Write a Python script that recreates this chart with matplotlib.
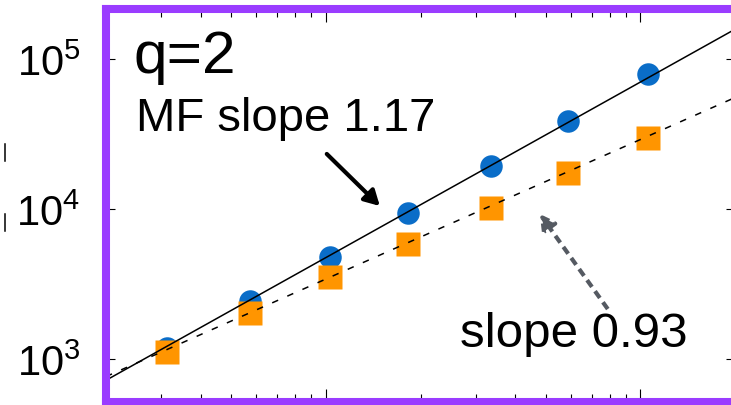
import numpy as np
import matplotlib
matplotlib.use("Agg")
import matplotlib.pyplot as plt
from matplotlib.lines import Line2D
from matplotlib.ticker import LogLocator, NullFormatter

plt.rcParams['font.family'] = ['Liberation Sans', 'DejaVu Sans']
plt.rcParams['mathtext.fontset'] = 'custom'
plt.rcParams['mathtext.rm'] = 'Liberation Sans'
plt.rcParams['lines.scale_dashes'] = False

# ---- data ----
x_vals = [3.12, 5.73, 10.3, 18.2, 33.5, 58.7, 106]
blue_vals = [1184, 2436, 4786, 9400, 19360, 38600, 79400]
orange_vals = [1114, 2026, 3521, 5843, 10160, 17380, 29730]
mf_slope = 1.17
mf_log_intercept = 2.506
fit_slope = 0.93
fit_log_intercept = 2.603
title_text = "q=2"
mf_label = "MF slope 1.17"
fit_label = "slope 0.93"
y_ticks = [1e3, 1e4, 1e5]

blue = "#0a6dc8"
orange = "#ff9500"
purple = "#9a3cff"

fig = plt.figure(figsize=(7.31, 4.06), dpi=100)
ax = fig.add_axes([106/731, 3/406, 629/731, 393/406])
ax.set_xscale('log')
ax.set_yscale('log')
ax.set_xlim(2, 200)
ax.set_ylim(517, 215400)

ax.plot(x_vals, blue_vals, 'o', color=blue, ms=16.2, mec='none', zorder=3)
ax.plot(x_vals, orange_vals, 's', color=orange, ms=16.6, mec='none', zorder=4)

xx = np.array(ax.get_xlim())
ax.plot(xx, 10**(mf_log_intercept + mf_slope*np.log10(xx)), '-', color='black', lw=1.1, zorder=5)
ax.plot(xx, 10**(fit_log_intercept + fit_slope*np.log10(xx)), color='black', lw=1.1,
        dashes=(4.7, 7.2), zorder=5)

# spines
for s in ax.spines.values():
    s.set_color(purple)
    s.set_linewidth(5.8)
    s.set_zorder(10)

ax.set_yticks(y_ticks)
ax.yaxis.set_minor_locator(LogLocator(base=10, subs=[]))
ax.xaxis.set_major_locator(LogLocator(base=10, numticks=10))
ax.xaxis.set_minor_locator(LogLocator(base=10, subs=np.arange(2, 10), numticks=10))
ax.xaxis.set_major_formatter(NullFormatter())
ax.xaxis.set_minor_formatter(NullFormatter())
ax.tick_params(axis='both', which='both', direction='in', color='black', width=0.8)
ax.tick_params(axis='x', which='major', length=9.5, top=True, bottom=True)
ax.tick_params(axis='x', which='minor', length=6, top=True, bottom=True)
ax.tick_params(axis='y', which='major', length=6.2, left=True, right=True,
               labelsize=30, pad=18.5)

# texts
ax.text(2.45, 81900, title_text, fontsize=43.5, ha='left', va='baseline')
ax.text(2.49, 33650, mf_label, fontsize=34, ha='left', va='baseline')
ax.text(26.8, 1221, fit_label, fontsize=35.5, ha='left', va='baseline')

# arrows
ax.annotate('', xy=(14.85, 10470), xytext=(10.07, 23280),
            arrowprops=dict(arrowstyle='-|>,head_length=0.9,head_width=0.5',
                            color='black', lw=3, shrinkA=0, shrinkB=0),
            zorder=6)
ax.annotate('', xy=(47.9, 9260), xytext=(78.8, 2154),
            arrowprops=dict(arrowstyle='-|>,head_length=0.9,head_width=0.5',
                            color='#555a62', lw=3, ls=(0, (6, 3.8)),
                            capstyle='butt', shrinkA=0, shrinkB=0),
            zorder=6)

# small marks at the far left edge
for y0, y1 in [(145, 162), (215, 232)]:
    fig.add_artist(Line2D([4.5/731, 4.5/731], [1 - y0/406, 1 - y1/406],
                          color='black', lw=1.1))

fig.savefig('out.png', dpi=100)
